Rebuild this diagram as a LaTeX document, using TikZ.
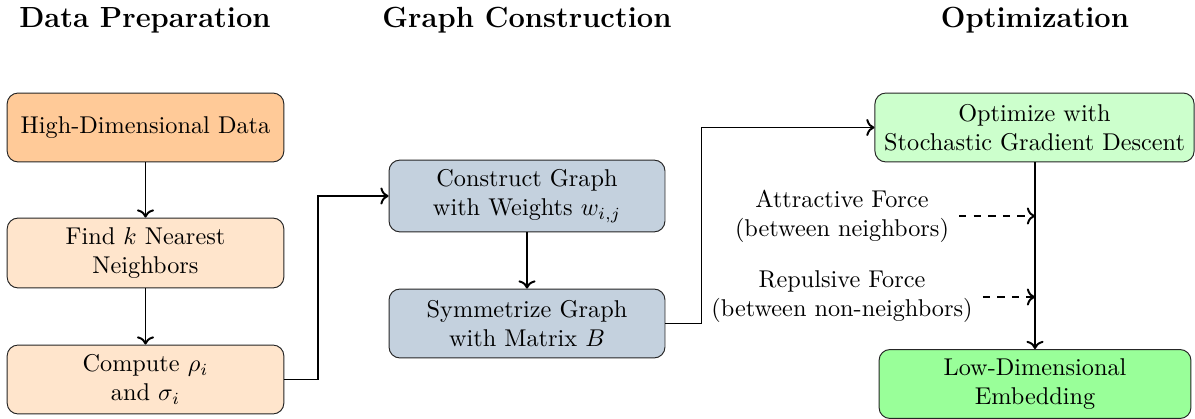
\documentclass[tikz,border=0pt]{standalone}
\usetikzlibrary{arrows.meta,calc}
\definecolor{prepA}{RGB}{255,202,152}
\definecolor{prepB}{RGB}{255,229,204}
\definecolor{graphC}{RGB}{196,209,222}
\definecolor{optA}{RGB}{204,255,204}
\definecolor{optB}{RGB}{153,255,153}
\tikzset{
  box/.style={draw=black!85, rounded corners=4.5pt, align=center, inner sep=2pt, font=\normalsize},
  heading/.style={font=\large\bfseries},
  flow/.style={->, thick},
  force/.style={->, thick, dashed},
  lbl/.style={align=center, inner sep=4pt}
}
\begin{document}
\begin{tikzpicture}[x=0.412pt,y=-0.412pt]
\useasboundingbox (0,0) rectangle (1195,419);
\node[heading] (h1) at (145,20) {Data Preparation};
\node[heading] (h2) at (527,20) {Graph Construction};
\node[heading] (h3) at (1035,20) {Optimization};

\node[box, fill=prepA, minimum width=114pt, minimum height=28.4pt] (b1) at (145.5,127.5) {High-Dimensional Data};
\node[box, fill=prepB, minimum width=114pt, minimum height=28.8pt] (b2) at (145.5,253) {Find $k$ Nearest\\Neighbors};
\node[box, fill=prepB, minimum width=114pt, minimum height=28.4pt] (b3) at (145.5,379.5) {Compute $\rho_i$\\and $\sigma_i$};
\node[box, fill=graphC, minimum width=113.7pt, minimum height=29.6pt] (b4) at (527,196) {Construct Graph\\with Weights $w_{i,j}$};
\node[box, fill=graphC, minimum width=113.7pt, minimum height=28.4pt] (b5) at (527,323.5) {Symmetrize Graph\\with Matrix $B$};
\node[box, fill=optA, minimum width=131.5pt, minimum height=28.4pt] (b6) at (1034.5,127.5) {Optimize with\\Stochastic Gradient Descent};
\node[box, fill=optB, minimum width=128.5pt, minimum height=28.4pt] (b7) at (1035,384) {Low-Dimensional\\Embedding};

\node[lbl] (attr) at (842,216) {Attractive Force\\(between neighbors)};
\node[lbl] (rep) at (842,297) {Repulsive Force\\(between non-neighbors)};

\draw[flow] (b1) -- (b2);
\draw[flow] (b2) -- (b3);
\draw[flow] (b3.east) -- ++(34,0) |- (b4.west);
\draw[flow] (b4) -- (b5);
\draw[flow] (b5.east) -- ++(36,0) |- (b6.west);
\draw[flow] (b6.south -| b7.north) -- (b7.north);
\draw[force] (attr.east) -- (attr.east -| b7.north);
\draw[force] (rep.east) -- (rep.east -| b7.north);
\end{tikzpicture}
\end{document}
